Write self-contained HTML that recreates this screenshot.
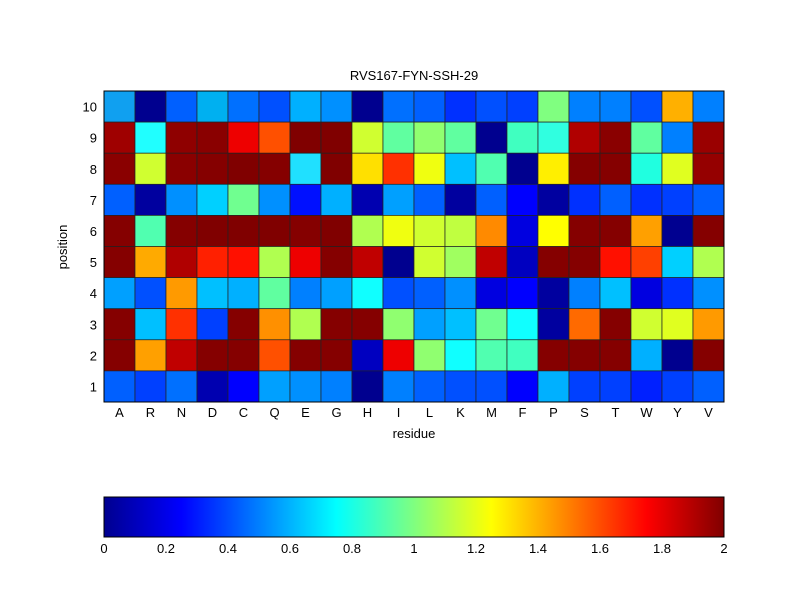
<!DOCTYPE html>
<html><head><style>body{margin:0;background:#fff}svg{display:block;font-family:"Liberation Sans",sans-serif}</style></head>
<body>
<svg width="800" height="600" xmlns="http://www.w3.org/2000/svg" id="s">
<rect width="800" height="600" fill="#fff"/>
<text x="414" y="80" font-size="13" text-anchor="middle">RVS167-FYN-SSH-29</text>
<g id="cells"></g>
<rect x="104" y="91" width="620" height="311" fill="none" stroke="#000" stroke-width="1"/>
<g id="lab" font-size="13"></g>
<text x="414" y="438" font-size="13" text-anchor="middle">residue</text>
<text transform="translate(67,247) rotate(-90)" font-size="13" text-anchor="middle">position</text>
<defs><linearGradient id="jet" x1="0" x2="1" y1="0" y2="0">
<stop offset="0" stop-color="#00008f"/><stop offset="0.125" stop-color="#0000ff"/><stop offset="0.375" stop-color="#00ffff"/><stop offset="0.625" stop-color="#ffff00"/><stop offset="0.875" stop-color="#ff0000"/><stop offset="1" stop-color="#800000"/></linearGradient></defs>
<rect x="104" y="497" width="620" height="40" fill="url(#jet)" stroke="#000"/>
<g font-size="13" text-anchor="middle">
<text x="104" y="553">0</text><text x="166" y="553">0.2</text><text x="228" y="553">0.4</text><text x="290" y="553">0.6</text><text x="352" y="553">0.8</text><text x="414" y="553">1</text><text x="476" y="553">1.2</text><text x="538" y="553">1.4</text><text x="600" y="553">1.6</text><text x="662" y="553">1.8</text><text x="724" y="553">2</text>
</g>
</svg>
<script>
var rows=[
"#10a0f0 #00008f #0060ff #00b0f0 #0070ff #0050ff #00b0ff #0090ff #00008f #0070ff #0060ff #0030ff #0050ff #0040ff #80ff80 #0080ff #0080ff #0050ff #ffb000 #0080ff",
"#9f0000 #20ffff #8f0000 #8a0000 #ee0000 #ff5000 #800000 #800000 #d0ff30 #60ffa0 #90ff70 #60ffa0 #00008f #40ffc0 #30ffe0 #b00000 #8a0000 #60ffa0 #0080ff #9a0000",
"#8a0000 #d0ff30 #8a0000 #850000 #800000 #850000 #20e0ff #800000 #ffe000 #ff3000 #f0ff10 #00c0ff #50ffb0 #00008f #ffef00 #850000 #850000 #20ffe0 #e0ff20 #950000",
"#0060ff #00009f #0090ff #00d0ff #70ff90 #0090ff #0010ff #00b0ff #0000b0 #00a0ff #0060ff #00009f #0060ff #0000ff #0000a0 #0030ff #0060ff #0030ff #0040ff #0060ff",
"#850000 #50ffb0 #850000 #800000 #800000 #800000 #850000 #800000 #b0ff50 #f0ff10 #d0ff30 #c0ff40 #ff8a00 #0000e0 #ffff00 #850000 #850000 #ffa000 #000090 #850000",
"#850000 #ffaa00 #b00000 #ff2000 #ff1000 #b0ff50 #ee0000 #850000 #c00000 #00008f #d0ff30 #a0ff60 #c00000 #0000c0 #850000 #850000 #ff1000 #ff4000 #00d0ff #b0ff50",
"#00a0ff #0050ff #ff9a00 #00c0ff #00b0ff #60ffa0 #0080ff #00a0ff #10ffff #0050ff #0060ff #0090ff #0000e0 #0000ff #00009f #0080ff #00c0ff #0000e0 #0030ff #0090ff",
"#850000 #00c0ff #ff3000 #0040ff #850000 #ff9000 #b0ff50 #850000 #850000 #90ff70 #00a0ff #00c0ff #70ff90 #10ffff #00009f #ff6a00 #850000 #d0ff30 #e0ff20 #ff9a00",
"#850000 #ffa000 #c00000 #850000 #850000 #ff5000 #850000 #850000 #0000c0 #ee0000 #90ff70 #10ffff #50ffb0 #40ffc0 #850000 #850000 #850000 #00b0ff #00008f #850000",
"#0060ff #0040ff #0070ff #0000b0 #0000ff #00a0ff #0090ff #0080ff #00008f #0080ff #0060ff #0050ff #0050ff #0000ff #00b0ff #0040ff #0040ff #0020ff #0040ff #0060ff"];
var ns="http://www.w3.org/2000/svg",g=document.getElementById("cells"),l=document.getElementById("lab");
var cw=31,rh=31.1,x0=104,y0=91;
rows.forEach(function(r,i){r.split(" ").forEach(function(c,j){var e=document.createElementNS(ns,"rect");e.setAttribute("x",x0+j*cw);e.setAttribute("y",y0+i*rh);e.setAttribute("width",cw);e.setAttribute("height",rh);e.setAttribute("fill",c);e.setAttribute("stroke","#222");e.setAttribute("stroke-width","0.7");g.appendChild(e);});});
"ARNDCQEGHILKMFPSTWYV".split("").forEach(function(a,j){var t=document.createElementNS(ns,"text");t.setAttribute("x",x0+j*cw+cw/2);t.setAttribute("y",417);t.setAttribute("text-anchor","middle");t.textContent=a;l.appendChild(t);});
for(var i=0;i<10;i++){var t=document.createElementNS(ns,"text");t.setAttribute("x",97);t.setAttribute("y",y0+i*rh+rh/2+5);t.setAttribute("text-anchor","end");t.textContent=10-i;l.appendChild(t);}
</script>
</body></html>
